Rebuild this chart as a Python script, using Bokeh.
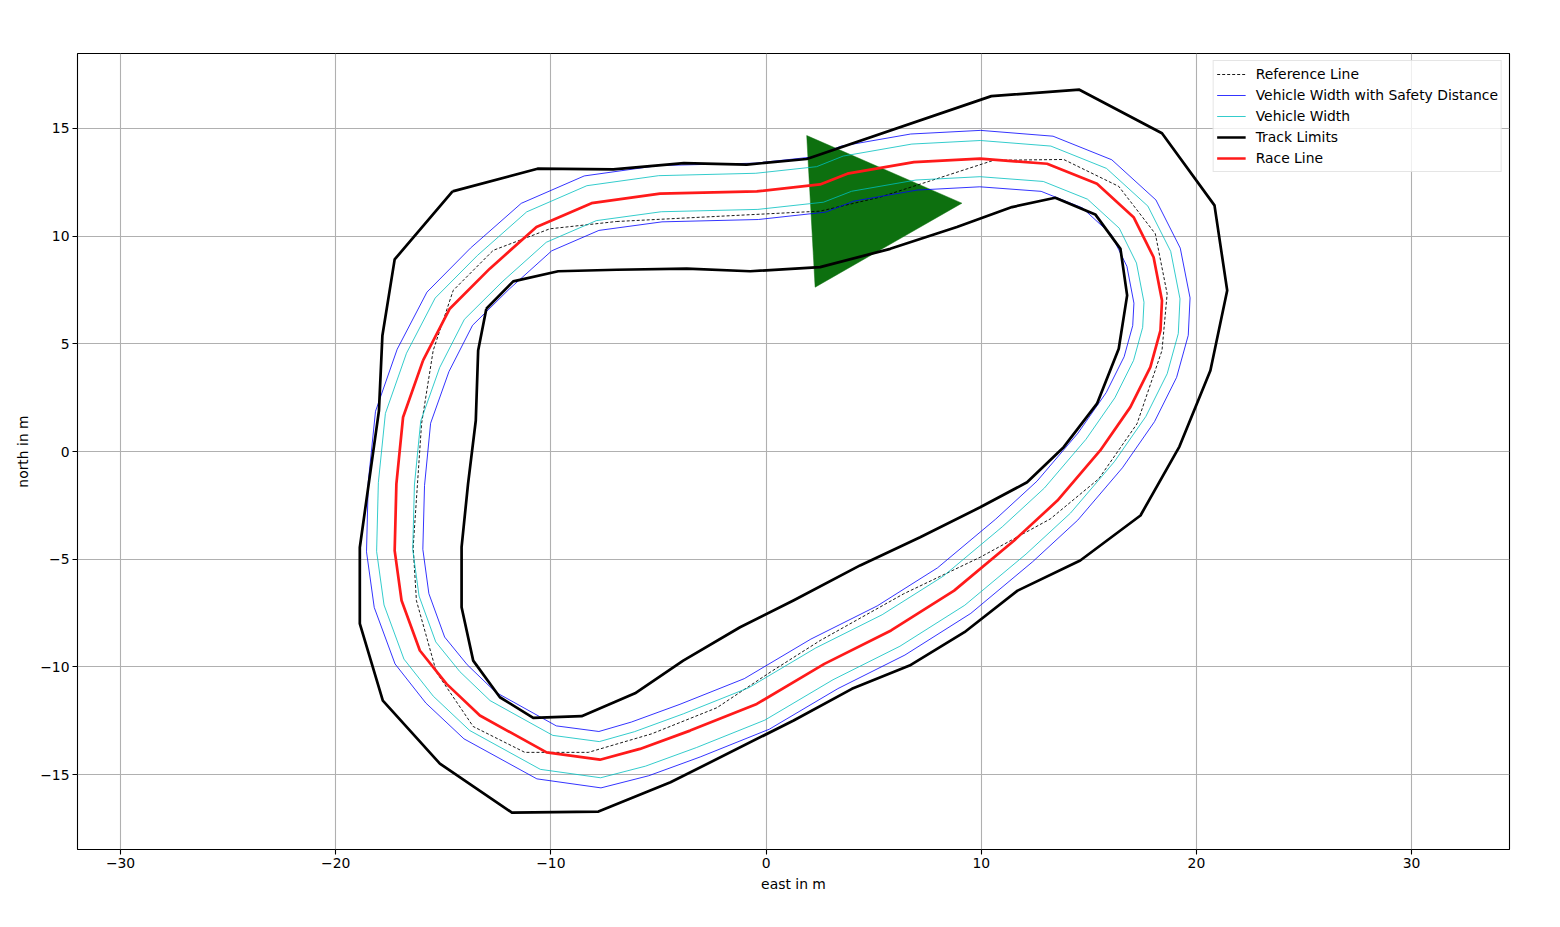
import numpy as np
from bokeh.plotting import figure
from bokeh.models import Range1d, FixedTicker, Legend, LegendItem
from bokeh.embed import file_html
from bokeh.resources import INLINE

# ---------------- data (metres) ----------------
outer_x = [-14.57, -10.62, -7.10, -3.82, -0.90, 1.89, 10.47, 14.56, 18.40, 20.84, 21.43,
           20.65, 19.21, 17.40, 14.60, 11.69, 9.22, 6.67, 3.99, 1.28, -4.44, -7.79,
           -11.81, -15.16, -17.81, -18.88, -18.88, -17.99, -17.83, -17.26, -14.57]
outer_y = [12.08, 13.13, 13.10, 13.39, 13.32, 13.58, 16.50, 16.80, 14.78, 11.43, 7.48,
           3.76, 0.23, -2.97, -5.06, -6.46, -8.39, -9.94, -11.02, -12.49, -15.36, -16.72,
           -16.77, -14.49, -11.57, -7.99, -4.46, 1.90, 5.39, 8.92, 12.08]

inner_x = [-13.00, -11.75, -9.66, -6.94, -3.69, -0.74, 2.51, 5.77, 8.87, 11.43, 13.44,
           15.30, 16.47, 16.78, 16.39, 15.38, 13.83, 12.13, 9.95, 7.16, 4.37, 1.27,
           -1.21, -3.85, -6.09, -8.57, -10.82, -12.37, -13.61, -14.15, -14.15, -13.85,
           -13.49, -13.38, -13.00]
inner_y = [6.63, 7.90, 8.37, 8.44, 8.49, 8.37, 8.56, 9.41, 10.42, 11.35, 11.78,
           11.01, 9.41, 7.25, 4.77, 2.22, 0.20, -1.43, -2.59, -3.98, -5.29, -6.92,
           -8.16, -9.71, -11.23, -12.29, -12.37, -11.41, -9.71, -7.23, -4.44, -1.50,
           1.44, 4.69, 6.63]

ref_x = [-6.94, 2.51, 5.30, 10.57, 13.83, 16.39, 18.09, 18.64, 18.40, 17.24, 15.46,
         13.21, 9.95, 6.39, 2.51, 0.19, -2.29, -5.32, -8.26, -11.21, -13.61, -15.32,
         -16.25, -16.40, -16.01, -15.47, -14.54, -12.68, -10.05, -6.94]
ref_y = [10.68, 11.16, 11.81, 13.52, 13.56, 12.31, 10.11, 7.32, 4.69, 1.29, -1.27,
         -3.13, -4.91, -6.61, -8.78, -10.25, -11.90, -13.11, -13.97, -13.97, -12.77, -10.25,
         -6.92, -4.44, 1.29, 4.69, 7.48, 9.34, 10.34, 10.68]

race_x = [-15.94, -14.70, -12.84, -10.67, -8.11, -4.93, -0.43, 2.51, 3.78, 6.87, 9.95,
          13.06, 15.38, 17.08, 18.01, 18.40, 18.33, 17.86, 16.93, 15.53, 13.54, 11.53,
          8.74, 5.81, 2.71, -0.43, -3.53, -5.86, -7.72, -10.20, -13.30, -14.85, -16.09,
          -16.94, -17.26, -17.18, -16.87, -15.94]
race_y = [4.23, 6.63, 8.49, 10.42, 11.53, 11.97, 12.08, 12.40, 12.90, 13.44, 13.60,
          13.36, 12.43, 10.88, 9.02, 7.01, 5.62, 3.92, 2.06, 0.05, -2.28, -4.13,
          -6.46, -8.31, -9.86, -11.72, -12.96, -13.81, -14.31, -13.97, -12.26, -10.79, -9.24,
          -6.92, -4.60, -1.50, 1.59, 4.23]

vehicle_half_width = 0.84      # m
safety_half_width = 1.31       # m (vehicle width + safety distance)

arrow_x = [1.89, 9.10, 2.28]
arrow_y = [14.67, 11.53, 7.63]

x_ticks = [-30, -20, -10, 0, 10, 20, 30]
y_ticks = [-15, -10, -5, 0, 5, 10, 15]


def offset_line(xs, ys, d):
    x = np.array(xs[:-1], dtype=float)
    y = np.array(ys[:-1], dtype=float)
    tx = np.roll(x, -1) - np.roll(x, 1)
    ty = np.roll(y, -1) - np.roll(y, 1)
    n = np.hypot(tx, ty)
    ox = x - d * ty / n
    oy = y + d * tx / n
    return list(ox) + [ox[0]], list(oy) + [oy[0]]


FONT = "DejaVu Sans"
FS = "13.9px"

p = figure(width=1552, height=919, output_backend="svg", toolbar_location=None,
           x_range=Range1d(-32.0, 34.55), y_range=Range1d(-18.48, 18.48),
           min_border_left=77, min_border_right=43, min_border_top=53, min_border_bottom=70)
p.background_fill_color = "white"
p.border_fill_color = "white"
p.outline_line_color = "black"
p.outline_line_width = 1.1

for ax, ticks in ((p.xaxis, x_ticks), (p.yaxis, y_ticks)):
    ax.ticker = FixedTicker(ticks=ticks)
    ax.major_label_overrides = {t: str(t).replace("-", "\u2212") for t in ticks}
    ax.major_tick_out = 5
    ax.major_tick_in = 0
    ax.minor_tick_line_color = None
    ax.axis_line_color = None
    ax.major_tick_line_color = "black"
    ax.major_tick_line_width = 1.1
    ax.major_label_text_font = FONT
    ax.major_label_text_font_size = FS
    ax.major_label_text_color = "black"
    ax.axis_label_text_font = FONT
    ax.axis_label_text_font_size = FS
    ax.axis_label_text_font_style = "normal"
    ax.axis_label_text_color = "black"
    ax.major_label_standoff = 3
p.xaxis.axis_label = "east in m"
p.yaxis.axis_label = "north in m"
p.xaxis.axis_label_standoff = 5
p.yaxis.axis_label_standoff = 6

p.grid.grid_line_color = "#b0b0b0"
p.grid.grid_line_width = 1.1

# start arrow
p.patch(arrow_x, arrow_y, fill_color="#0d700f", line_color="#0d700f", line_width=0.5)

r_ref = p.line(ref_x, ref_y, line_color="black", line_width=0.9, line_dash="3 2")

blue_renderers = []
for s in (1, -1):
    bx, by = offset_line(race_x, race_y, s * safety_half_width)
    blue_renderers.append(p.line(bx, by, line_color="blue", line_width=0.8))
cyan_renderers = []
for s in (1, -1):
    cx, cy = offset_line(race_x, race_y, s * vehicle_half_width)
    cyan_renderers.append(p.line(cx, cy, line_color="#00bfbf", line_width=0.8))

r_outer = p.line(outer_x, outer_y, line_color="black", line_width=2.7, line_join="round")
r_inner = p.line(inner_x, inner_y, line_color="black", line_width=2.7, line_join="round")
r_race = p.line(race_x, race_y, line_color="#ff1a1a", line_width=2.7, line_join="round")

legend = Legend(items=[
    LegendItem(label="Reference Line", renderers=[r_ref]),
    LegendItem(label="Vehicle Width with Safety Distance", renderers=[blue_renderers[0]]),
    LegendItem(label="Vehicle Width", renderers=[cyan_renderers[0]]),
    LegendItem(label="Track Limits", renderers=[r_outer]),
    LegendItem(label="Race Line", renderers=[r_race]),
], location="top_right")
legend.margin = 7
legend.padding = 3
legend.spacing = 1
legend.glyph_width = 29
legend.glyph_height = 20
legend.label_height = 20
legend.label_standoff = 10
legend.label_text_font = FONT
legend.label_text_font_size = FS
legend.label_text_color = "black"
legend.border_line_color = "#cccccc"
legend.border_line_width = 1
legend.background_fill_alpha = 0.8
p.add_layout(legend)

open("out.html", "w").write(file_html(p, INLINE))
